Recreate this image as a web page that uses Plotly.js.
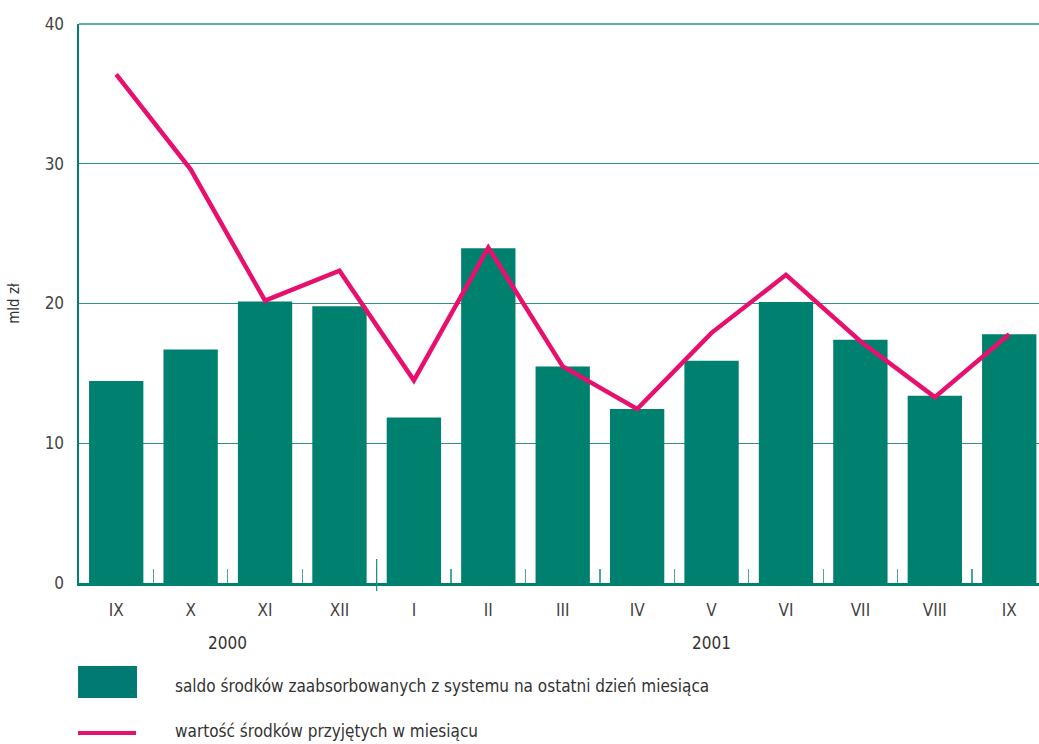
<!DOCTYPE html>
<html>
<head>
<meta charset="utf-8">
<script src="https://cdn.plot.ly/plotly-3.0.1.min.js"></script>
<style>html,body{margin:0;padding:0;background:#fff;}#chart{width:1039px;height:744px;}</style>
</head>
<body>
<div id="chart"></div>
<script>
// Data
const monthLabels = ["IX","X","XI","XII","I","II","III","IV","V","VI","VII","VIII","IX"];
const yearOf = [2000,2000,2000,2000,2001,2001,2001,2001,2001,2001,2001,2001,2001];
const saldo = [14.45, 16.7, 20.15, 19.8, 11.85, 23.95, 15.5, 12.45, 15.9, 20.1, 17.4, 13.4, 17.8];
const wartosc = [36.4, 29.6, 20.2, 22.35, 14.5, 24.0, 15.5, 12.45, 17.9, 22.05, 17.3, 13.3, 17.8];
const seriesNames = ["saldo środków zaabsorbowanych z systemu na ostatni dzień miesiąca", "wartość środków przyjętych w miesiącu"];
const yTitle = "mld zł";

const idx = monthLabels.map((_, i) => i);
const FONT = "'Liberation Sans Narrow', 'DejaVu Sans Condensed', 'Open Sans', sans-serif";
const TEAL = "#00806f";
const MAGENTA = "#e8106e";

const years = [...new Set(yearOf)];
const yearAnn = years.map(y => {
  const ids = idx.filter(i => yearOf[i] === y);
  const mid = (ids[0] + ids[ids.length - 1]) / 2;
  return {x: mid, xref: 'x', y: -0.107, yref: 'paper', text: String(y), showarrow: false,
    font: {family: FONT, size: 17, color: '#333'}, xanchor: 'center', yanchor: 'middle'};
});
// year boundary position
const boundary = idx.find(i => yearOf[i] !== yearOf[0]) - 0.5;

const xRange = [-0.5, 12.4];

const traces = [
  {type: 'bar', x: idx, y: saldo, name: seriesNames[0], marker: {color: TEAL}, width: 0.73,
   xaxis: 'x', yaxis: 'y', showlegend: false, hoverinfo: 'skip'},
  {type: 'scatter', mode: 'lines', x: idx, y: wartosc, name: seriesNames[1],
   line: {color: MAGENTA, width: 4.5}, xaxis: 'x2', yaxis: 'y', showlegend: false, hoverinfo: 'skip'}
];

const boundaries = idx.slice(0, -1).map(i => i + 0.5);

const layout = {
  width: 1039, height: 744,
  margin: {l: 79, r: 0, t: 24, b: 161},
  paper_bgcolor: '#fff', plot_bgcolor: '#fff',
  showlegend: false,
  font: {family: FONT, color: '#333'},
  xaxis: {
    range: xRange, tickmode: 'array', tickvals: idx, ticktext: monthLabels,
    ticks: '', showgrid: false, zeroline: false,
    showline: true, linecolor: '#00806f', linewidth: 2.5,
    tickfont: {family: FONT, size: 17, color: '#444'}, ticklabelstandoff: 10
  },
  xaxis2: {
    overlaying: 'x', anchor: 'y', range: xRange, tickmode: 'array', tickvals: boundaries,
    ticks: 'inside', ticklen: 14, tickwidth: 1.2, tickcolor: '#4aa79e',
    showticklabels: false, showgrid: false, zeroline: false, showline: false
  },
  yaxis: {
    range: [0, 40], tickmode: 'linear', tick0: 0, dtick: 10,
    showgrid: true, gridcolor: '#2f9187', gridwidth: 1,
    zeroline: false, showline: true, linecolor: '#00806f', linewidth: 2.5,
    ticks: '', tickfont: {family: FONT, size: 17, color: '#444'}, ticklabelstandoff: 9,
    title: {text: yTitle, font: {family: FONT, size: 15, color: '#333'}, standoff: 22}
  },
  shapes: [
    {type: 'line', xref: 'paper', yref: 'paper', x0: 0, x1: 1, y0: 1, y1: 1,
     line: {color: '#5ab0a8', width: 2}},
    {type: 'line', xref: 'x', yref: 'paper', x0: boundary, x1: boundary, y0: -0.0143, y1: 0.043,
     line: {color: '#1f8a80', width: 1.2}},
    // legend swatches
    {type: 'rect', xref: 'paper', yref: 'paper', x0: -0.001, x1: 0.0604, y0: -0.2057, y1: -0.1485,
     fillcolor: '#007a72', line: {width: 0}},
    {type: 'line', xref: 'paper', yref: 'paper', x0: -0.001, x1: 0.0594, y0: -0.2683, y1: -0.2683,
     line: {color: MAGENTA, width: 4}}
  ],
  annotations: yearAnn.concat([
    {x: 0.0979, xref: 'paper', y: -0.1843, yref: 'paper', text: seriesNames[0], showarrow: false,
     xanchor: 'left', yanchor: 'middle', font: {family: FONT, size: 17, color: '#333'}},
    {x: 0.0979, xref: 'paper', y: -0.2648, yref: 'paper', text: seriesNames[1], showarrow: false,
     xanchor: 'left', yanchor: 'middle', font: {family: FONT, size: 17, color: '#333'}}
  ])
};

Plotly.newPlot('chart', traces, layout, {displayModeBar: false, staticPlot: true});
</script>
</body>
</html>
